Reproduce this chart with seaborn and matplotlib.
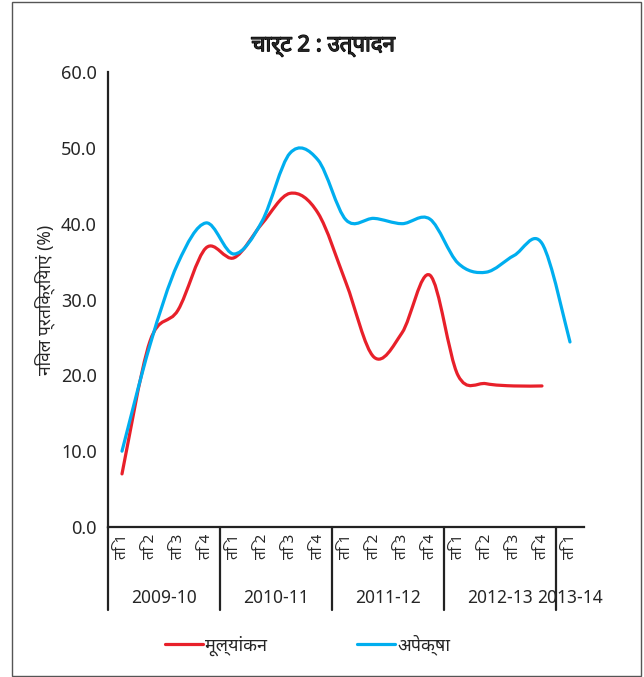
import numpy as np
import pandas as pd
import matplotlib
matplotlib.use("Agg")
import matplotlib.pyplot as plt
import matplotlib.patheffects as pe
from matplotlib import font_manager
from matplotlib.ft2font import FT2Font
from matplotlib.path import Path
from matplotlib.patches import PathPatch, Rectangle
from matplotlib.lines import Line2D
import seaborn as sns

# data
years = ["2009-10", "2010-11", "2011-12", "2012-13", "2013-14"]
quarters = ["ति 1", "ति 2", "ति 3", "ति 4"] * 4 + ["ति 1"]
mulyankan = [7.0, 24.5, 28.6, 36.8, 35.5, 40.0, 44.0, 41.4,
             32.2, 22.4, 25.6, 33.2, 20.0, 18.9, 18.6, 18.6]
apeksha = [10.0, 24.0, 34.8, 40.1, 36.0, 40.3, 49.3, 48.4,
           40.5, 40.7, 40.0, 40.6, 34.8, 33.6, 35.8, 37.4, 24.4]

sns.set_style("white")

# find a font that has devanagari glyphs
dev_font = None
for f in font_manager.fontManager.ttflist:
    try:
        if 0x0928 in FT2Font(f.fname).get_charmap():
            dev_font = f.name
            break
    except Exception:
        pass
fams = ["Noto Sans"]
if dev_font:
    fams.append(dev_font)
fams.append("DejaVu Sans")
plt.rcParams["font.family"] = fams

RED = "#e8202a"
BLUE = "#00aeef"
INK = "#222222"


def smooth_path(xs, ys):
    # excel-like smoothed line, bezier segments through the data points
    pts = np.column_stack([xs, ys])
    n = len(pts)
    verts = [pts[0]]
    codes = [Path.MOVETO]
    for i in range(n - 1):
        p0 = pts[i - 1] if i > 0 else pts[i]
        p1 = pts[i]
        p2 = pts[i + 1]
        p3 = pts[i + 2] if i + 2 < n else pts[i + 1]
        c1 = p1 + (p2 - p0) / 6
        c2 = p2 - (p3 - p1) / 6
        verts += [c1, c2, p2]
        codes += [Path.CURVE4] * 3
    return Path(verts, codes)


df = pd.DataFrame({"x": np.arange(len(apeksha)), "apeksha": apeksha})
df["mulyankan"] = mulyankan + [np.nan]

fig = plt.figure(figsize=(6.44, 6.77), dpi=100)
ax = fig.add_axes([0.1677, 0.2216, 0.7391, 0.672])

for col, c in [("mulyankan", RED), ("apeksha", BLUE)]:
    d = df.dropna(subset=[col])
    ax.add_patch(PathPatch(smooth_path(d["x"].values, d[col].values),
                           fill=False, edgecolor=c, lw=2.3,
                           capstyle="round", joinstyle="round"))

ax.set_xlim(-0.5, 16.5)
ax.set_ylim(0, 60)
ax.set_yticks(np.arange(0, 61, 10))
ax.set_yticklabels([f"{v:.1f}" for v in np.arange(0, 61, 10)], fontsize=13)
ax.set_ylabel("निवल प्रतिक्रियाएं (%)", fontsize=12.5, labelpad=4)

ax.set_xticks(np.arange(17))
ax.set_xticklabels(quarters, rotation=90, fontsize=11, va="top")
ax.set_xticks(np.arange(-0.5, 17, 1), minor=True)
ax.tick_params(axis="x", which="major", length=0, pad=5)
ax.tick_params(axis="x", which="minor", length=4, width=1, color=INK, direction="out")
ax.tick_params(axis="y", length=6, width=1.2, color=INK, direction="out", pad=2)

sns.despine(ax=ax)
for s in ["left", "bottom"]:
    ax.spines[s].set_linewidth(1.6)
    ax.spines[s].set_color(INK)

# year group separators and labels
trans = ax.get_xaxis_transform()
for b in [-0.5, 3.5, 7.5, 11.5, 15.5]:
    ax.plot([b, b], [0, -0.183], transform=trans, color=INK, lw=1.6, clip_on=False)
for yr, cx in zip(years, [1.5, 5.5, 9.5, 13.5, 16]):
    ax.text(cx, -0.156, yr, transform=trans, ha="center", va="center", fontsize=12.5)

title = fig.suptitle("चार्ट 2 : उत्पादन", x=0.502, y=0.948, fontsize=16, fontweight="bold")
title.set_path_effects([pe.withStroke(linewidth=0.9, foreground="black")])

handles = [Line2D([], [], color=RED, lw=2.3), Line2D([], [], color=BLUE, lw=2.3)]
fig.legend(handles, ["मूल्यांकन", "अपेक्षा"], loc="center", bbox_to_anchor=(0.478, 0.047),
           ncol=2, frameon=False, fontsize=13, handlelength=2.1, handletextpad=0.1,
           columnspacing=5.0)

# thin frame round the picture
fig.patches.append(Rectangle((12 / 644, 1 / 677), 629 / 644, 674 / 677,
                             transform=fig.transFigure, fill=False,
                             edgecolor="#555555", lw=1))

fig.savefig("out.png", dpi=100)
